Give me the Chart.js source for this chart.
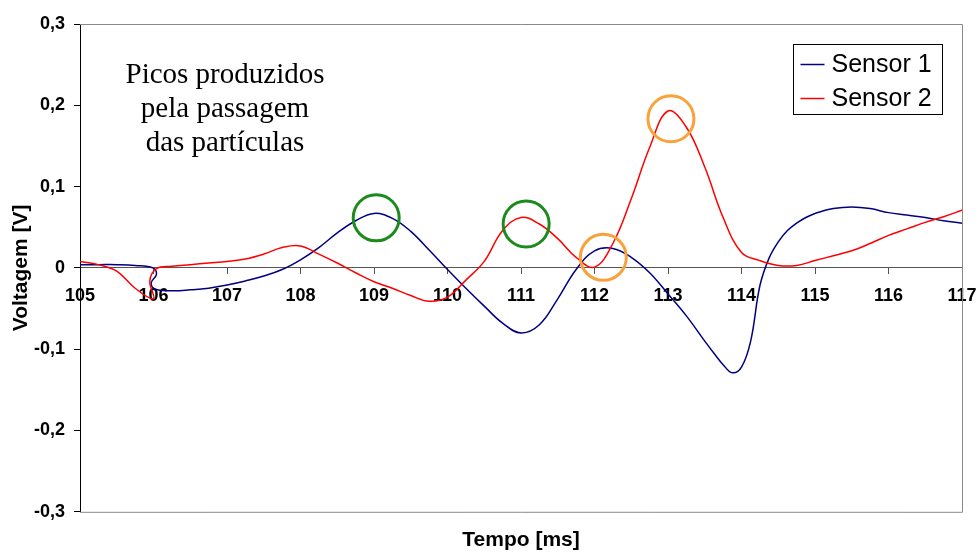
<!DOCTYPE html>
<html>
<head>
<meta charset="utf-8">
<script src="https://cdn.jsdelivr.net/npm/chart.js@4.4.1/dist/chart.umd.min.js"></script>
<style>
html,body{margin:0;padding:0;background:#fff;}
#wrap{width:979px;height:553px;position:relative;}
</style>
</head>
<body>
<div id="wrap"><canvas id="c" width="979" height="553"></canvas></div>
<script>
// ---- data ----
const seriesNames = ['Sensor 1', 'Sensor 2'];

const sensor1X = [105.0, 105.25, 105.5, 105.75, 105.99, 106.04, 105.97, 106.02, 106.25, 106.5, 106.75, 107.0, 107.25, 107.5, 107.75, 108.0, 108.25, 108.5, 108.75, 109.0, 109.25, 109.5, 109.75, 110.0, 110.25, 110.5, 110.75, 111.0, 111.25, 111.5, 111.75, 112.0, 112.25, 112.5, 112.75, 113.0, 113.25, 113.5, 113.625, 113.75, 113.875, 114.0, 114.125, 114.25, 114.375, 114.5, 114.625, 114.75, 114.875, 115.0, 115.25, 115.5, 115.75, 116.0, 116.25, 116.5, 116.75, 117.0];
const sensor1Y = [0.004, 0.004, 0.004, 0.003, 0.0, -0.008, -0.018, -0.026, -0.028, -0.027, -0.025, -0.021, -0.016, -0.010, -0.002, 0.010, 0.025, 0.043, 0.058, 0.067, 0.061, 0.045, 0.022, -0.002, -0.025, -0.047, -0.068, -0.080, -0.070, -0.038, -0.002, 0.021, 0.024, 0.013, -0.006, -0.032, -0.059, -0.090, -0.105, -0.119, -0.129, -0.122, -0.090, -0.022, 0.012, 0.032, 0.046, 0.055, 0.062, 0.067, 0.073, 0.075, 0.073, 0.068, 0.065, 0.062, 0.058, 0.055];

const sensor2X = [105.0, 105.25, 105.5, 105.75, 106.0, 105.95, 106.04, 106.25, 106.5, 106.75, 107.0, 107.25, 107.5, 107.75, 108.0, 108.25, 108.5, 108.75, 109.0, 109.25, 109.5, 109.75, 110.0, 110.25, 110.5, 110.75, 111.0, 111.25, 111.5, 111.75, 112.0, 112.25, 112.5, 112.75, 113.0, 113.25, 113.5, 113.75, 114.0, 114.25, 114.5, 114.75, 115.0, 115.25, 115.5, 115.75, 116.0, 116.25, 116.5, 116.75, 117.0];
const sensor2Y = [0.008, 0.004, -0.004, -0.025, -0.038, -0.016, -0.001, 0.002, 0.004, 0.006, 0.008, 0.011, 0.017, 0.025, 0.027, 0.017, 0.006, -0.006, -0.017, -0.025, -0.034, -0.041, -0.036, -0.015, 0.008, 0.046, 0.062, 0.054, 0.036, 0.013, 0.001, 0.030, 0.085, 0.148, 0.193, 0.173, 0.124, 0.062, 0.019, 0.009, 0.003, 0.003, 0.009, 0.015, 0.021, 0.030, 0.040, 0.048, 0.056, 0.063, 0.071];

// highlighted peaks (circle markers)
const greenPeakX = [109.03, 111.07];
const greenPeakY = [0.0616, 0.054];
const orangePeakX = [112.12, 113.04];
const orangePeakY = [0.013, 0.1835];

const xTickValues = [105, 106, 107, 108, 109, 110, 111, 112, 113, 114, 115, 116, 117];
const xTickLabels = ['105', '106', '107', '108', '109', '110', '111', '112', '113', '114', '115', '116', '117'];
const yTickValues = [-0.3, -0.2, -0.1, 0, 0.1, 0.2, 0.3];
const yTickLabels = ['-0,3', '-0,2', '-0,1', '0', '0,1', '0,2', '0,3'];

const annotationLines = ['Picos produzidos', 'pela passagem', 'das partículas'];
const xTitle = 'Tempo [ms]';
const yTitle = 'Voltagem [V]';

// ---- helpers ----
const pts = (xs, ys) => xs.map((x, i) => ({x: x, y: ys[i]}));
const SANS = '"Liberation Sans", Arial, sans-serif';
const SERIF = '"Liberation Serif", "Times New Roman", serif';
const noPadding = () => ({left: 0, top: 0, right: 0, bottom: 0});

const frameAndDecor = {
  id: 'frameAndDecor',
  beforeDatasetsDraw(chart) {
    const {ctx, chartArea: a} = chart;
    ctx.save();
    ctx.strokeStyle = '#8a8a8a';
    ctx.lineWidth = 1;
    ctx.beginPath();
    ctx.moveTo(a.left, a.top + 0.5);
    ctx.lineTo(a.right + 0.5, a.top + 0.5);
    ctx.lineTo(a.right + 0.5, a.bottom + 0.5);
    ctx.lineTo(a.left, a.bottom + 0.5);
    ctx.stroke();
    ctx.restore();
  },
  afterDraw(chart) {
    const {ctx, chartArea: a} = chart;
    ctx.save();
    // annotation text
    ctx.fillStyle = '#000';
    ctx.font = '29px ' + SERIF;
    ctx.textAlign = 'center';
    ctx.textBaseline = 'alphabetic';
    annotationLines.forEach((t, i) => {
      ctx.fillText(t, a.left + 145, a.top + 59 + i * 34);
    });
    // legend
    const bw = 149, bh = 70;
    const bx = Math.round(a.right - 169) + 0.5, by = Math.round(a.top + 20) + 0.5;
    ctx.fillStyle = '#fff';
    ctx.fillRect(bx, by, bw, bh);
    ctx.strokeStyle = '#000';
    ctx.lineWidth = 1;
    ctx.strokeRect(bx, by, bw, bh);
    const ds = chart.data.datasets.filter(d => seriesNames.includes(d.label));
    ds.forEach((d, i) => {
      const y = by + 20 + i * 34;
      ctx.strokeStyle = d.borderColor;
      ctx.lineWidth = 1.5;
      ctx.beginPath();
      ctx.moveTo(bx + 7, y);
      ctx.lineTo(bx + 31, y);
      ctx.stroke();
      ctx.fillStyle = '#000';
      ctx.font = '25px ' + SANS;
      ctx.textAlign = 'left';
      ctx.textBaseline = 'middle';
      ctx.fillText(d.label, bx + 38, y + 1);
    });
    ctx.restore();
  }
};

new Chart(document.getElementById('c'), {
  type: 'line',
  data: {
    datasets: [
      {label: 'peaks-green', data: pts(greenPeakX, greenPeakY), showLine: false,
       pointRadius: 23, pointHoverRadius: 23, pointBorderWidth: 3, pointBorderColor: '#1c8a1c',
       pointBackgroundColor: 'rgba(0,0,0,0)', borderColor: '#1c8a1c', order: 1},
      {label: 'peaks-orange', data: pts(orangePeakX, orangePeakY), showLine: false,
       pointRadius: 23, pointHoverRadius: 23, pointBorderWidth: 3, pointBorderColor: '#f9a23c',
       pointBackgroundColor: 'rgba(0,0,0,0)', borderColor: '#f9a23c', order: 1},
      {label: seriesNames[0], data: pts(sensor1X, sensor1Y), borderColor: '#000080',
       borderWidth: 1.5, pointRadius: 0, tension: 0.4, fill: false, order: 3},
      {label: seriesNames[1], data: pts(sensor2X, sensor2Y), borderColor: '#ff0000',
       borderWidth: 1.5, pointRadius: 0, tension: 0.4, fill: false, order: 2}
    ]
  },
  options: {
    responsive: false,
    animation: false,
    devicePixelRatio: 1,
    layout: {autoPadding: false, padding: {left: 0, right: 17, top: 24, bottom: 0}},
    plugins: {
      legend: {display: false},
      tooltip: {enabled: false},
      title: {
        display: true, position: 'bottom', fullSize: false, text: xTitle, color: '#000',
        font: {family: SANS, size: 21, weight: 'bold'}, padding: {top: 16, bottom: 0}
      }
    },
    scales: {
      x: {
        type: 'linear', position: {y: 0}, min: 105, max: 117,
        afterBuildTicks: s => { s.ticks = xTickValues.map(v => ({value: v})); },
        afterFit: s => { s.paddingLeft = 0; s.paddingRight = 0; s.getPadding = noPadding; },
        ticks: {
          color: '#000', font: {family: SANS, size: 18, weight: 'bold'}, padding: 11,
          maxRotation: 0, autoSkip: false,
          callback: (v) => xTickLabels[xTickValues.indexOf(v)]
        },
        grid: {drawOnChartArea: false, drawTicks: true, tickLength: 6, color: '#555'},
        border: {display: true, color: '#555', width: 1}
      },
      y: {
        type: 'linear', position: 'left', min: -0.3, max: 0.3,
        afterBuildTicks: s => { s.ticks = yTickValues.map(v => ({value: v})); },
        afterFit: s => { s.width = 80; s.getPadding = noPadding; },
        ticks: {
          color: '#000', font: {family: SANS, size: 18, weight: 'bold'}, padding: 9,
          autoSkip: false,
          callback: (v) => yTickLabels[yTickValues.findIndex(t => Math.abs(t - v) < 1e-9)]
        },
        grid: {drawOnChartArea: false, drawTicks: true, tickLength: 6, color: '#000'},
        border: {display: true, color: '#000', width: 1},
        title: {display: true, text: yTitle, color: '#000',
                font: {family: SANS, size: 21, weight: 'bold'}, padding: {top: 9, bottom: 0}}
      }
    }
  },
  plugins: [frameAndDecor]
});
</script>
</body>
</html>
